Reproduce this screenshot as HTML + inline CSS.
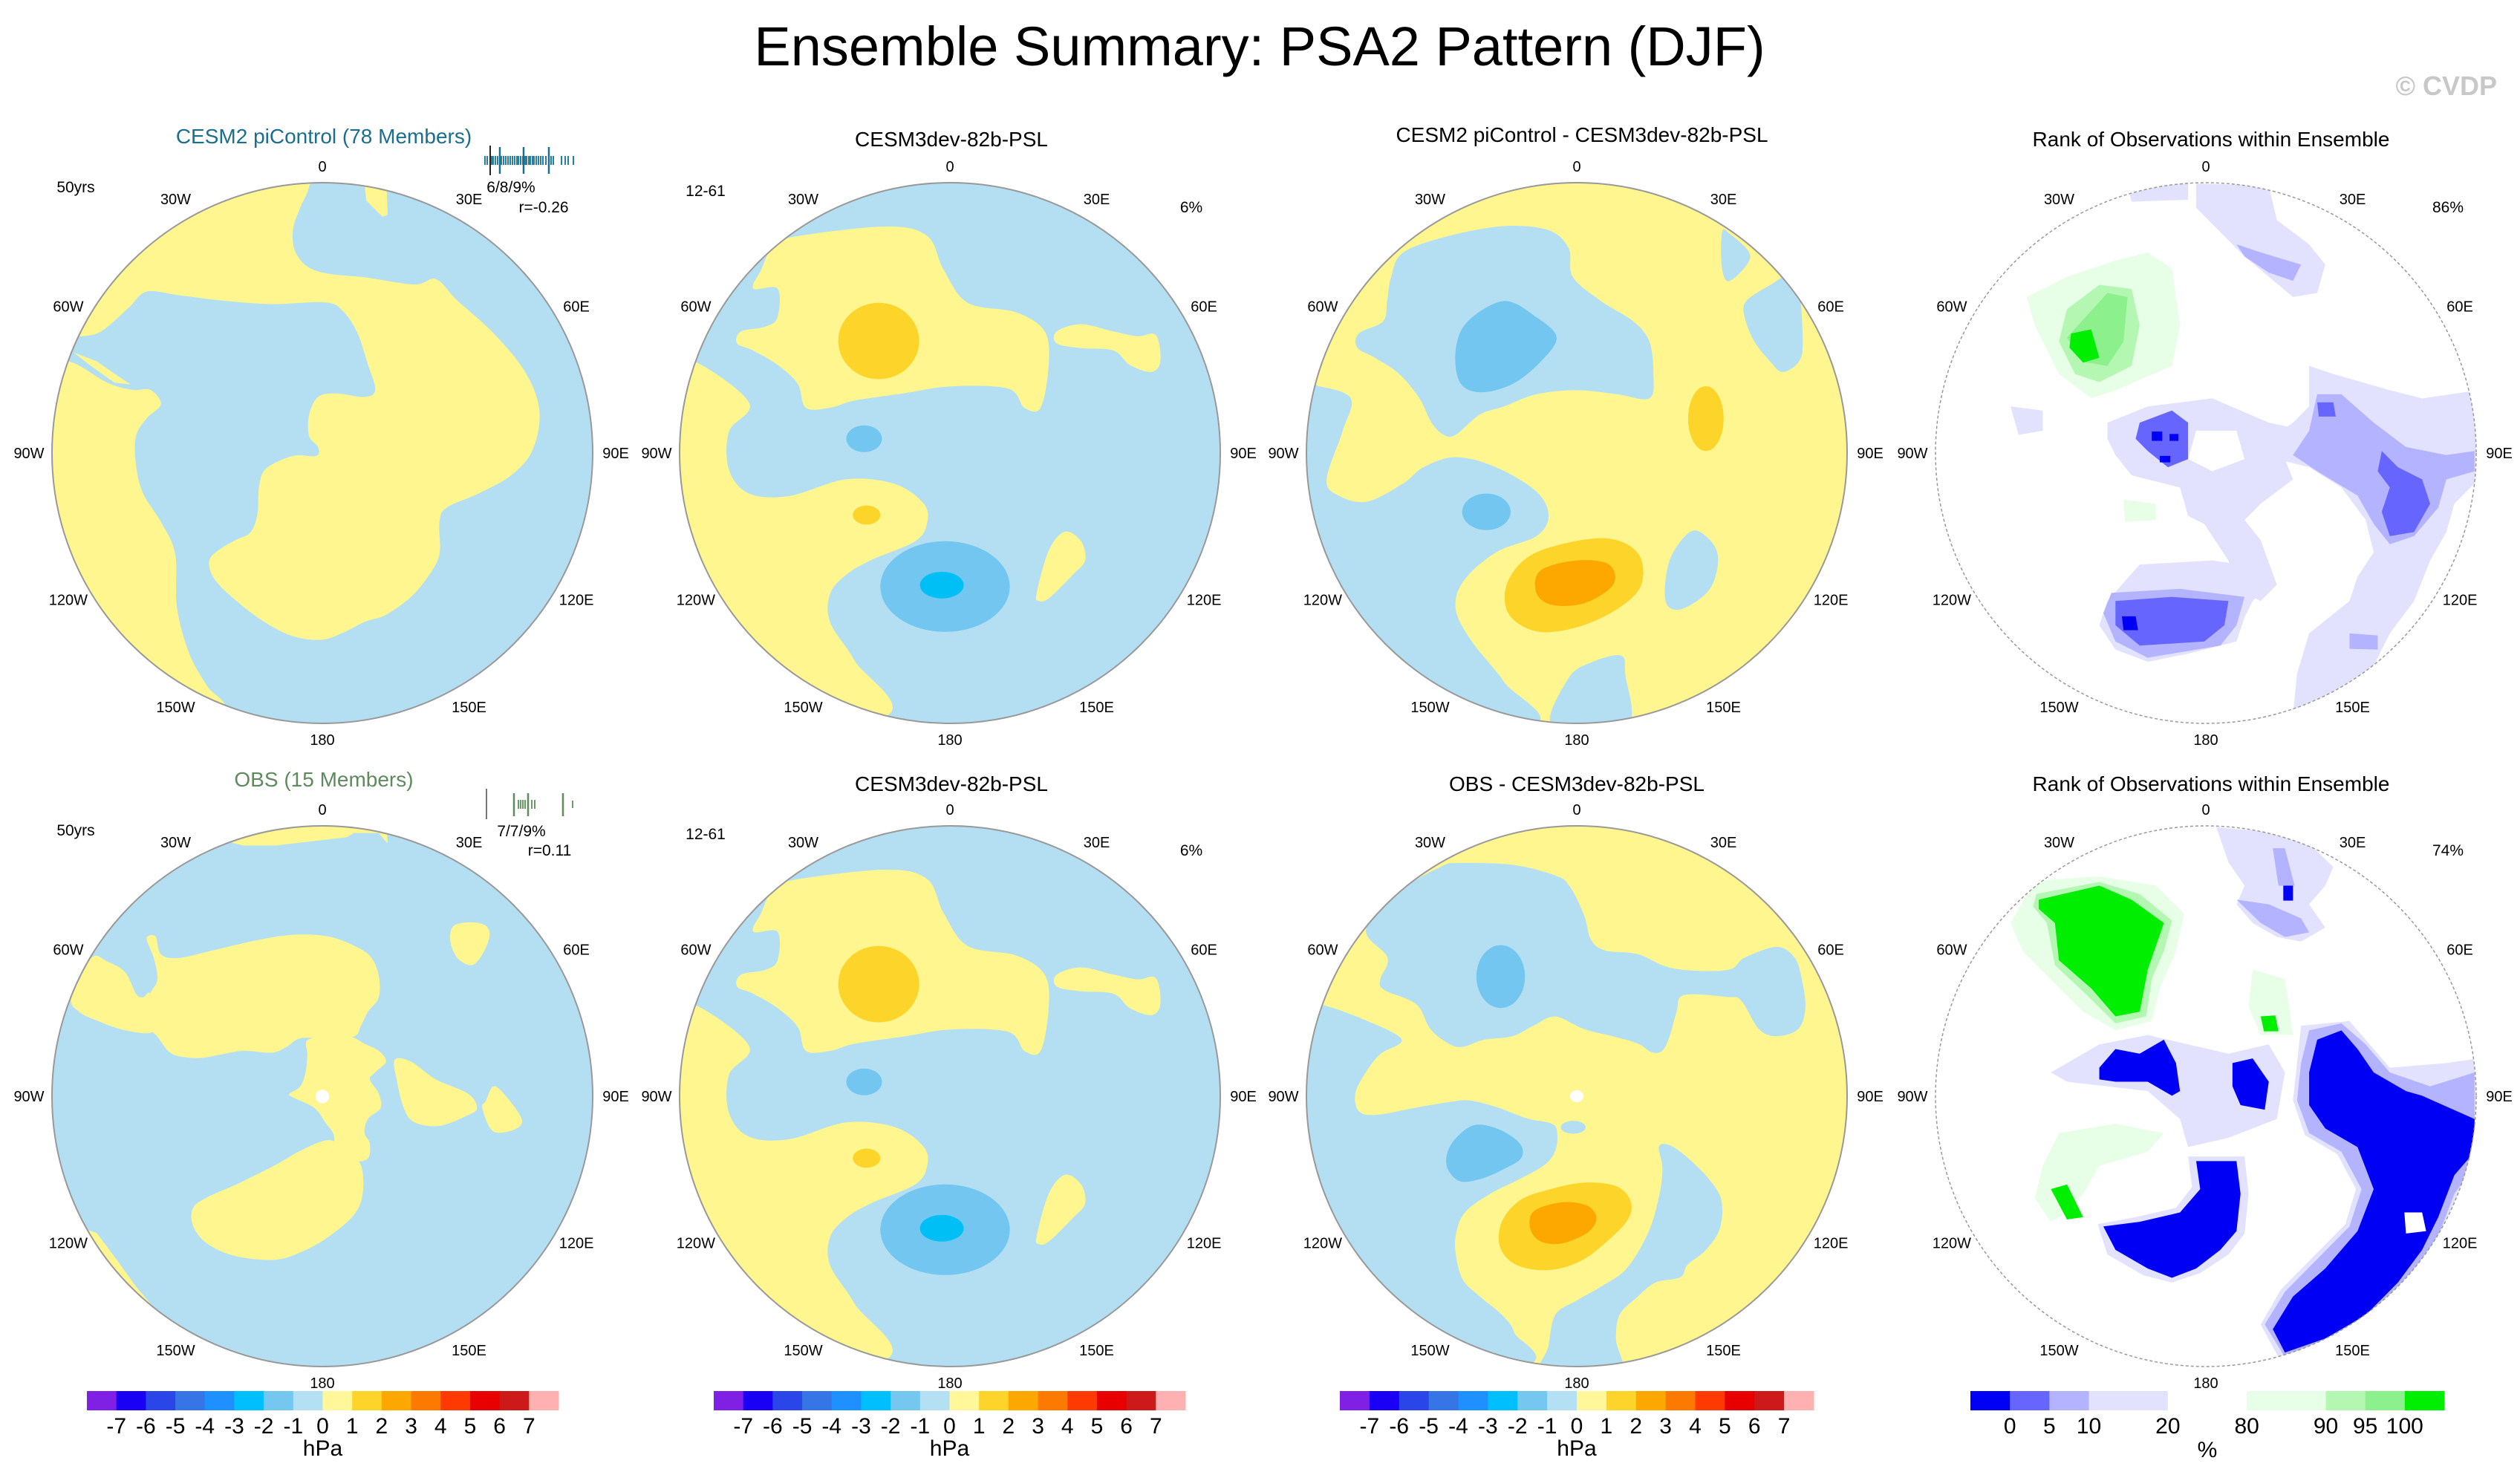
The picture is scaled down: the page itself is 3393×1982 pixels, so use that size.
<!DOCTYPE html>
<html><head><meta charset="utf-8">
<style>
html,body{margin:0;padding:0;background:#fff;}
svg{display:block;font-family:"Liberation Sans",Arial,sans-serif;}
</style></head>
<body>
<svg id="fig" xmlns="http://www.w3.org/2000/svg" width="3393" height="1982" viewBox="0 0 3393 1982">
<rect width="3393" height="1982" fill="#fff"/>
<text x="1696" y="88" text-anchor="middle" font-size="74" fill="#000">Ensemble Summary: PSA2 Pattern (DJF)</text>
<text x="3362" y="128" text-anchor="end" font-size="36" font-weight="bold" fill="#c8c8c8">© CVDP</text>

<text x="436" y="193" text-anchor="middle" font-size="28" fill="#1a6e8e">CESM2 piControl (78 Members)</text>
<text x="1281" y="197" text-anchor="middle" font-size="28" fill="#000">CESM3dev-82b-PSL</text>
<text x="2130" y="191" text-anchor="middle" font-size="28" fill="#000">CESM2 piControl - CESM3dev-82b-PSL</text>
<text x="2977" y="197" text-anchor="middle" font-size="28" fill="#000">Rank of Observations within Ensemble</text>
<text x="436" y="1059" text-anchor="middle" font-size="28" fill="#5e8a5e">OBS (15 Members)</text>
<text x="1281" y="1065" text-anchor="middle" font-size="28" fill="#000">CESM3dev-82b-PSL</text>
<text x="2123" y="1065" text-anchor="middle" font-size="28" fill="#000">OBS - CESM3dev-82b-PSL</text>
<text x="2977" y="1065" text-anchor="middle" font-size="28" fill="#000">Rank of Observations within Ensemble</text>

<g font-size="21" fill="#000">
<text x="102" y="259" text-anchor="middle">50yrs</text>
<text x="688" y="259" text-anchor="middle">6/8/9%</text>
<text x="732" y="286" text-anchor="middle">r=-0.26</text>
<text x="950" y="264" text-anchor="middle">12-61</text>
<text x="1604" y="286" text-anchor="middle">6%</text>
<text x="3296" y="286" text-anchor="middle">86%</text>
<text x="102" y="1125" text-anchor="middle">50yrs</text>
<text x="702" y="1126" text-anchor="middle">7/7/9%</text>
<text x="740" y="1152" text-anchor="middle">r=0.11</text>
<text x="950" y="1130" text-anchor="middle">12-61</text>
<text x="1604" y="1152" text-anchor="middle">6%</text>
<text x="3296" y="1152" text-anchor="middle">74%</text>
</g>
<g id="ticks1"></g>
<g id="ticks5"></g>
<g id="maps"></g>
<g id="cbars"></g>
</svg>
<script>
const NS="http://www.w3.org/2000/svg";
const svg=document.getElementById('fig');
function mk(tag,attrs,parent){const e=document.createElementNS(NS,tag);for(const k in attrs)e.setAttribute(k,attrs[k]);if(parent)parent.appendChild(e);return e;}

const LB="#b4dff3",YL="#fff68f",MB="#72c6f0",CY="#00bff5",GD="#fdd42a",OR="#fca800";
const R0="#0000f5",R1="#6666ff",R2="#b3b3ff",R3="#e2e2ff",G1="#e6ffe6",G2="#b3f7b3",G3="#8cf08c",G4="#00ee00";

const shapes1=[
 {c:YL,p:[[745,-60],[745,20],[720,80],[700,140],[705,200],[740,245],[800,265],[900,275],[1040,295],[1100,280],[1160,340],[1260,430],[1350,540],[1390,650],[1370,760],[1310,830],[1220,880],[1130,920],[1110,960],[1110,1050],[1080,1110],[1030,1170],[960,1220],[900,1240],[840,1270],[780,1290],[700,1280],[620,1240],[540,1180],[480,1120],[465,1070],[490,1040],[540,1010],[580,990],[600,940],[605,860],[625,810],[700,775],[765,775],[770,750],[745,720],[745,660],[770,610],[820,600],[900,610],[930,590],[910,520],[880,430],[840,370],[790,345],[640,350],[500,340],[380,325],[290,315],[240,360],[165,425],[110,440],[60,440],[-60,440],[-60,-60]]},
 {c:YL,p:[[85,485],[150,510],[200,545],[245,575],[200,570],[130,520]],s:0},
 {c:YL,p:[[945,10],[962,25],[965,100],[950,105],[905,60],[900,10]],s:0},
 {c:YL,p:[[-60,510],[70,510],[180,570],[250,590],[300,590],[330,630],[290,670],[260,720],[260,800],[280,880],[330,960],[370,1050],[375,1200],[410,1330],[460,1420],[510,1490],[400,1600],[-60,1600]]}
];
const shapes2=[
 {c:YL,p:[[830,760],[865,755],[930,840],[905,900],[905,980],[930,1030],[980,1035],[1050,1000],[1110,1010],[1145,1050],[1150,1090],[1135,1130],[1080,1170],[1050,1200],[1030,1240],[1030,1300],[1060,1380],[1095,1500],[830,1520]]},
 {c:YL,p:[[960,510],[990,490],[1100,470],[1150,490],[1170,560],[1200,630],[1260,650],[1295,690],[1300,760],[1290,850],[1270,850],[1250,810],[1180,805],[1120,820],[1060,835],[1030,850],[1000,850],[990,800],[965,760],[935,730],[915,715],[920,690],[950,680],[965,660],[965,600],[935,600],[945,560]]},
 {c:GD,e:[1090,710,50,80]},
 {c:YL,p:[[1310,690],[1340,675],[1380,690],[1410,700],[1430,695],[1437,720],[1437,760],[1425,775],[1400,760],[1380,730],[1340,725],[1310,715]]},
 {c:GD,e:[1075,1075,17,20]},
 {c:MB,e:[1172,1225,80,95]},
 {c:CY,e:[1168,1222,27,28]},
 {c:MB,e:[1072,915,22,28]},
 {c:YL,p:[[1320,1110],[1340,1130],[1345,1170],[1330,1200],[1300,1250],[1288,1255],[1285,1240],[1300,1150]]}
];
const shapes3=[
 {c:LB,p:[[175,340],[230,300],[300,275],[355,285],[380,330],[385,400],[420,460],[460,510],[480,560],[485,640],[480,700],[440,690],[390,680],[340,690],[300,720],[270,740],[240,790],[225,790],[210,760],[195,700],[170,640],[140,600],[118,575],[120,540],[150,510],[155,460],[160,400]]},
 {c:MB,p:[[300,460],[340,500],[365,550],[345,610],[310,665],[270,685],[245,660],[240,580],[255,510]]},
 {c:LB,p:[[40,670],[70,670],[110,700],[100,780],[80,900],[95,940],[130,955],[175,910],[200,870],[240,845],[290,870],[340,930],[355,990],[340,1040],[290,1080],[250,1150],[240,1220],[260,1300],[300,1400],[330,1510],[40,1510]]},
 {c:MB,e:[278,980,30,45]},
 {c:LB,p:[[600,460],[630,420],[650,400],[665,430],[670,560],[665,610],[645,635],[630,610],[610,560],[598,500]]},
 {c:LB,p:[[570,290],[580,295],[605,350],[580,410],[570,380]]},
 {c:LB,p:[[360,1510],[380,1390],[410,1350],[445,1335],[450,1380],[452,1510]]},
 {c:LB,p:[[530,1030],[550,1040],[565,1090],[555,1170],[520,1220],[500,1200],[505,1100]]},
 {c:GD,e:[550,750,22,80]},
 {c:GD,p:[[420,1045],[465,1080],[470,1160],[440,1220],[390,1265],[340,1275],[305,1230],[305,1150],[340,1080]]},
 {c:OR,p:[[390,1100],[430,1110],[435,1160],[400,1205],[360,1210],[340,1180],[345,1125]]}
];
const shapes4=[
 {c:R3,p:[[1160,170],[1250,175],[1260,260],[1300,320],[1320,370],[1310,440],[1280,450],[1250,400],[1220,350],[1185,280],[1160,230]]},
 {c:R3,p:[[1075,175],[1150,170],[1150,210],[1080,215]]},
 {c:R2,p:[[1210,320],[1240,340],[1290,370],[1280,410],[1250,390],[1220,350]]},
 {c:G1,p:[[1100,340],[1130,380],[1140,520],[1130,620],[1060,680],[1030,700],[990,640],[960,520],[950,450],[1000,400],[1060,360]]},
 {c:G2,p:[[1040,420],[1080,430],[1090,520],[1080,620],[1040,660],[1010,640],[990,560],[1000,480]]},
 {c:G3,p:[[1050,440],[1075,450],[1070,560],[1050,620],[1020,610],[1000,550]]},
 {c:G4,p:[[1005,540],[1030,530],[1040,600],[1020,612],[1003,575]]},
 {c:R3,p:[[1050,760],[1100,720],[1180,700],[1250,760],[1300,780],[1270,850],[1280,900],[1240,960],[1220,1000],[1240,1050],[1260,1160],[1240,1200],[1210,1170],[1200,1100],[1170,1010],[1150,990],[1140,920],[1080,890],[1060,840],[1050,800]]},
 {c:"#fff",p:[[1160,780],[1210,780],[1220,850],[1180,880],[1150,850]]},
 {c:R1,p:[[1090,760],[1130,730],[1150,760],[1150,850],[1125,870],[1100,830],[1085,800]]},
 {c:R0,p:[[1105,782],[1118,782],[1118,805],[1105,805]]},
 {c:R0,p:[[1127,788],[1138,788],[1138,805],[1127,805]]},
 {c:R0,p:[[1115,842],[1128,842],[1128,858],[1115,858]]},
 {c:R3,p:[[1300,620],[1330,640],[1400,680],[1440,700],[1510,680],[1510,900],[1480,960],[1470,1030],[1450,1100],[1430,1200],[1400,1280],[1380,1360],[1340,1420],[1300,1460],[1280,1480],[1285,1380],[1300,1280],[1350,1200],[1360,1140],[1380,1080],[1370,1000],[1340,920],[1300,870],[1260,850],[1250,800],[1280,760],[1300,720]]},
 {c:R2,p:[[1310,690],[1340,690],[1380,760],[1420,820],[1470,840],[1505,830],[1505,880],[1470,900],[1460,970],[1430,1040],[1400,1060],[1380,1010],[1360,940],[1310,880],[1280,840],[1300,780]]},
 {c:R1,p:[[1390,830],[1410,870],[1440,900],[1450,960],[1430,1030],[1400,1040],[1390,980],[1400,920],[1385,880]]},
 {c:R1,p:[[1310,710],[1330,710],[1333,745],[1312,745]]},
 {c:R2,p:[[1350,1280],[1385,1285],[1385,1320],[1350,1318]]},
 {c:R3,p:[[930,720],[970,730],[970,780],[940,790]]},
 {c:G1,p:[[1070,950],[1110,960],[1110,1000],[1072,1005]]},
 {c:R3,p:[[1090,1110],[1180,1100],[1250,1120],[1250,1160],[1230,1200],[1220,1240],[1210,1300],[1150,1330],[1100,1350],[1060,1320],[1040,1260],[1050,1200]]},
 {c:R2,p:[[1055,1180],[1140,1170],[1220,1190],[1210,1260],[1190,1310],[1100,1340],[1060,1300],[1045,1230]]},
 {c:R1,p:[[1060,1200],[1130,1190],[1200,1200],[1195,1260],[1170,1300],[1090,1310],[1060,1260]]},
 {c:R0,p:[[1068,1238],[1085,1238],[1088,1272],[1070,1272]]}
];
const shapes5=[
 {c:YL,p:[[500,-20],[960,-20],[965,60],[940,30],[870,30],[850,42],[780,50],[650,65],[560,65],[520,55]],s:0},
 {c:YL,p:[[290,325],[315,320],[330,370],[380,380],[470,360],[600,330],[700,315],[800,320],[880,350],[920,380],[940,430],[940,490],[910,530],[890,570],[870,600],[790,605],[720,605],[680,630],[640,645],[560,640],[500,650],[440,660],[380,655],[350,640],[320,600],[300,580],[280,540],[300,480],[320,440],[310,380]]},
 {c:YL,p:[[80,490],[135,380],[180,390],[230,420],[260,480],[280,490],[300,480],[310,560],[300,590],[220,580],[150,555],[100,530]]},
 {c:YL,p:[[740,610],[800,600],[860,600],[900,620],[940,640],[960,670],[930,700],[915,720],[940,760],[945,800],[910,830],[900,870],[915,900],[905,945],[830,950],[810,940],[815,880],[790,840],[760,800],[700,770],[690,760],[720,740],[735,700],[740,650]]},
 {c:YL,p:[[985,665],[1030,670],[1100,720],[1190,760],[1215,800],[1190,820],[1110,850],[1040,840],[1010,800],[990,720]]},
 {c:YL,p:[[1260,740],[1290,760],[1340,830],[1320,860],[1260,865],[1230,800],[1240,780]]},
 {c:YL,p:[[1150,290],[1200,280],[1240,290],[1250,320],[1230,370],[1200,400],[1160,380],[1140,330]]},
 {c:YL,p:[[800,890],[850,920],[890,960],[895,1040],[870,1100],[800,1160],[730,1200],[650,1225],[540,1215],[460,1180],[420,1130],[420,1080],[460,1050],[550,1010],[650,960],[720,920]]},
 {c:YL,p:[[-50,1140],[120,1140],[150,1150],[210,1230],[260,1300],[320,1370],[340,1410],[-50,1410]],s:0},
 {c:"#fff",e:[782,768,19,19]}
];
const shapes7=[
 {c:LB,p:[[190,300],[290,190],[400,125],[450,115],[600,120],[720,150],[760,180],[800,260],[820,330],[860,360],[950,370],[1050,410],[1200,415],[1250,380],[1340,350],[1390,380],[1410,440],[1420,520],[1400,580],[1340,600],[1290,580],[1240,500],[1200,490],[1080,485],[1060,530],[1040,600],[1020,640],[990,645],[950,620],[880,600],[800,580],[720,545],[660,570],[600,600],[520,610],[460,630],[420,620],[370,580],[330,510],[240,470],[230,440],[250,380]]},
 {c:MB,e:[567,433,68,88]},
 {c:LB,p:[[-50,500],[60,510],[200,560],[290,610],[230,650],[190,700],[160,760],[170,810],[220,820],[330,800],[420,785],[480,780],[560,800],[640,830],[710,845],[725,870],[720,920],[690,960],[620,1000],[540,1040],[470,1090],[445,1140],[440,1200],[460,1280],[510,1330],[570,1380],[605,1430],[620,1530],[-50,1600]]},
 {c:LB,p:[[1010,910],[1040,905],[1090,940],[1150,1000],[1185,1060],[1180,1140],[1140,1200],[1090,1240],[1070,1275],[1000,1290],[950,1330],[900,1380],[890,1450],[900,1560],[680,1560],[700,1470],[720,1380],[780,1340],[850,1300],[920,1250],[980,1150],[1010,1050],[1020,970]]},
 {c:LB,e:[770,855,35,18]},
 {c:MB,p:[[490,850],[560,860],[620,900],[625,940],[580,970],[510,1000],[450,1005],[415,960],[430,900]]},
 {c:GD,p:[[800,1010],[890,1020],[930,1060],[925,1110],[870,1170],[790,1230],[700,1255],[610,1240],[565,1190],[570,1120],[620,1060],[700,1030]]},
 {c:OR,p:[[740,1065],[810,1075],[835,1110],[810,1150],[740,1180],[680,1175],[650,1140],[660,1090]]},
 {c:"#fff",e:[780,768,19,17]}
];
const shapes8=[
 {c:R3,p:[[1185,175],[1250,185],[1300,210],[1330,260],[1320,300],[1300,340],[1320,390],[1290,420],[1260,410],[1230,380],[1210,340],[1220,300],[1200,250]]},
 {c:R2,p:[[1210,330],[1250,340],[1290,370],[1300,400],[1270,410],[1240,380]]},
 {c:R2,p:[[1255,220],[1270,220],[1282,300],[1262,300]]},
 {c:R0,p:[[1268,300],[1280,300],[1280,332],[1268,332]]},
 {c:G1,p:[[960,290],[1040,280],[1110,300],[1145,360],[1135,440],[1115,520],[1105,590],[1060,610],[1020,570],[985,510],[945,440],[930,380],[950,320]]},
 {c:G2,p:[[962,318],[1040,292],[1090,318],[1130,375],[1120,440],[1105,500],[1098,580],[1060,595],[1025,535],[985,470],[975,380],[958,345]]},
 {c:G4,p:[[965,330],[1040,300],[1080,330],[1120,380],[1110,430],[1100,480],[1090,570],[1060,580],[1030,520],[990,460],[985,380],[965,350]]},
 {c:G1,p:[[1230,480],[1270,500],[1280,620],[1240,620],[1225,560]]},
 {c:G4,p:[[1240,580],[1258,578],[1262,612],[1244,612]]},
 {c:R3,p:[[980,700],[1040,640],[1100,620],[1150,640],[1200,660],[1250,640],[1270,700],[1260,800],[1200,840],[1150,860],[1140,800],[1100,740],[1000,720]]},
 {c:R0,p:[[1040,690],[1060,650],[1090,660],[1120,630],[1135,680],[1140,740],[1130,750],[1100,720],[1060,720],[1040,715]]},
 {c:R0,p:[[1205,680],[1230,670],[1250,720],[1245,780],[1215,770],[1205,730]]},
 {c:R3,p:[[1290,600],[1350,590],[1400,690],[1470,680],[1510,670],[1510,910],[1485,970],[1465,1060],[1435,1140],[1395,1210],[1335,1280],[1265,1320],[1240,1240],[1265,1165],[1305,1095],[1345,1025],[1358,950],[1335,875],[1295,835],[1280,760],[1285,680]]},
 {c:R2,p:[[1300,610],[1340,595],[1370,640],[1400,700],[1450,730],[1505,700],[1505,900],[1480,960],[1460,1050],[1430,1130],[1390,1200],[1330,1270],[1270,1310],[1245,1240],[1270,1170],[1310,1100],[1350,1030],[1365,950],[1340,870],[1300,830],[1285,760],[1290,680]]},
 {c:R0,p:[[1310,630],[1340,610],[1360,650],[1380,700],[1420,740],[1440,750],[1505,800],[1505,870],[1480,920],[1460,1010],[1440,1080],[1410,1150],[1370,1220],[1320,1270],[1270,1300],[1255,1250],[1280,1180],[1320,1120],[1360,1040],[1380,950],[1360,860],[1320,820],[1300,770],[1300,700]]},
 {c:R3,p:[[1150,880],[1220,880],[1225,960],[1220,1045],[1200,1090],[1165,1130],[1130,1150],[1095,1135],[1050,1090],[1038,1025],[1085,1010],[1135,990],[1155,945]]},
 {c:R0,p:[[1160,890],[1210,890],[1215,960],[1210,1040],[1190,1080],[1160,1120],[1130,1140],[1100,1120],[1060,1080],[1045,1030],[1090,1020],[1140,1000],[1165,950]]},
 {c:G1,p:[[990,830],[1060,810],[1120,830],[1100,870],[1040,900],[1020,960],[1000,1000],[980,1020],[960,970],[970,900]]},
 {c:G4,p:[[980,950],[1000,940],[1020,1010],[1000,1015]]},
 {c:"#fff",p:[[1418,1000],[1440,1000],[1445,1040],[1420,1045]]}
];

const maps=[
 {n:'map-cesm2-picontrol',cx:434,cy:610,zcx:782,zcy:767,ax:757,ay:757,bg:LB,sh:shapes1,smooth:1},
 {n:'map-cesm3dev-row1',cx:1279,cy:610,zcx:1178,zcy:945,ax:334,ay:567,bg:LB,sh:shapes2,smooth:1},
 {n:'map-diff-row1',cx:2123,cy:610,zcx:390,zcy:835,ax:335,ay:667,bg:YL,sh:shapes3,smooth:1},
 {n:'map-rank-row1',cx:2970,cy:610,zcx:1172,zcy:835,ax:335,ay:667,bg:"#fff",sh:shapes4,smooth:0,rank:1},
 {n:'map-obs',cx:434,cy:1476,zcx:782,zcy:767,ax:757,ay:757,bg:LB,sh:shapes5,smooth:1},
 {n:'map-cesm3dev-row2',cx:1279,cy:1476,zcx:1178,zcy:945,ax:334,ay:567,bg:LB,sh:shapes2,smooth:1},
 {n:'map-diff-row2',cx:2123,cy:1476,zcx:780,zcy:768,ax:757,ay:757,bg:YL,sh:shapes7,smooth:1},
 {n:'map-rank-row2',cx:2970,cy:1476,zcx:1172,zcy:751,ax:335,ay:579,bg:"#fff",sh:shapes8,smooth:0,rank:1}
];
const RAD=364;
const lonLabels=['0','30E','60E','90E','120E','150E','180','150W','120W','90W','60W','30W'];
const lonAngles=[0,30,60,90,120,150,180,210,240,270,300,330];

function smoothPath(p){
 const n=p.length;let d=`M${p[0][0]},${p[0][1]}`;
 for(let i=0;i<n;i++){
  const p0=p[(i-1+n)%n],p1=p[i],p2=p[(i+1)%n],p3=p[(i+2)%n];
  const c1=[p1[0]+(p2[0]-p0[0])/6,p1[1]+(p2[1]-p0[1])/6];
  const c2=[p2[0]-(p3[0]-p1[0])/6,p2[1]-(p3[1]-p1[1])/6];
  d+=`C${c1[0]},${c1[1]} ${c2[0]},${c2[1]} ${p2[0]},${p2[1]}`;
 }
 return d+'Z';
}
function polyPath(p){return 'M'+p.map(q=>q.join(',')).join('L')+'Z';}

const mapsG=document.getElementById('maps');
const defs=mk('defs',{},svg);
maps.forEach((m,i)=>{
 const cp=mk('clipPath',{id:'clip'+i},defs);
 mk('circle',{cx:m.cx,cy:m.cy,r:RAD},cp);
 const g=mk('g',{'clip-path':`url(#clip${i})`},mapsG);
 
 
 const bg=mk('circle',{cx:m.cx,cy:m.cy,r:RAD,fill:m.bg},g);
 
 
 const t=mk('g',{transform:`translate(${m.cx},${m.cy}) scale(${RAD/m.ax},${RAD/m.ay}) translate(${-m.zcx},${-m.zcy})`},g);
 m.sh.forEach(s=>{
  let el;
  if(s.e){el=mk('ellipse',{cx:s.e[0],cy:s.e[1],rx:s.e[2],ry:s.e[3],fill:s.c},t);}
  else{el=mk('path',{d:(m.smooth&&s.s!==0)?smoothPath(s.p):polyPath(s.p),fill:s.c},t);}
  
  
 });
 const ol=mk('circle',{cx:m.cx,cy:m.cy,r:RAD,fill:'none',stroke:'#999','stroke-width':m.rank?1.5:2},mapsG);
 if(m.rank)ol.setAttribute('stroke-dasharray','4 3');
 
 
 lonLabels.forEach((lab,k)=>{
  const a=lonAngles[k]*Math.PI/180;
  const rr=(lonAngles[k]%180===0)?386:395;
  const tx=mk('text',{x:(m.cx+rr*Math.sin(a)).toFixed(1),y:(m.cy-rr*Math.cos(a)+7).toFixed(1),'text-anchor':'middle','font-size':20,fill:'#000'},mapsG);
  tx.textContent=lab;
  
  
 });
});

// ensemble tick strips
const ticksModel=[653,656,662,664,667,670,673,675,678,681,684,687,690,693,696,698,701,704,707,709,712,714,717,719,722,725,728,731,735,739,742,745,756,761,765,772];
const ticksModelLong=[673,705,739];
const tg1=document.getElementById('ticks1');
ticksModel.forEach(x=>{
 const l=mk('line',{x1:x,x2:x,y1:210,y2:222,stroke:'#2a7fa0','stroke-width':2},tg1);
 
 
});
ticksModelLong.forEach(x=>{
 const l=mk('line',{x1:x,x2:x,y1:198,y2:234,stroke:'#1a6e8e','stroke-width':2.5},tg1);
 
 
});
const obsLine1=mk('line',{x1:660,x2:660,y1:196,y2:236,stroke:'#222','stroke-width':2},tg1);



const ticksObs=[698,701,704,707,716,720];
const ticksObsLong=[692,711,758];
const tg5=document.getElementById('ticks5');
ticksObs.forEach(x=>{
 const l=mk('line',{x1:x,x2:x,y1:1077,y2:1089,stroke:'#6a9a6a','stroke-width':2},tg5);
 
 
});
ticksObsLong.forEach(x=>{
 const l=mk('line',{x1:x,x2:x,y1:1068,y2:1099,stroke:'#5e8a5e','stroke-width':2.5},tg5);
 
 
});
const s771=mk('line',{x1:771,x2:771,y1:1078,y2:1088,stroke:'#6a9a6a','stroke-width':2},tg5);


const obsLine5=mk('line',{x1:655,x2:655,y1:1062,y2:1103,stroke:'#777','stroke-width':2},tg5);



// colorbars
const pslColors=["#8020e4","#1a00f5","#2a45e8","#3575e6","#1e90ff","#00bfff","#74c8f0","#b4e0f3","#fff799","#fdd42a","#fca800","#fd7a00","#ff3a00","#e80000","#cc1a1a","#ffb0b0"];
const pslLabels=["-7","-6","-5","-4","-3","-2","-1","0","1","2","3","4","5","6","7"];
const rankColors=[R0,R1,R2,R3,R3,"#fff","#fff",G1,G1,G2,G3,G4];
const rankLabels=["0","5","10","20","80","90","95","100"];
const rankLabelPos=[1,2,3,5,7,9,10,11];
const cbG=document.getElementById('cbars');
const cbX=[[117,752],[961,1596],[1804,2442]];
cbX.forEach(([x0,x1],j)=>{
 const w=(x1-x0)/pslColors.length;
 pslColors.forEach((c,i)=>{
  const r=mk('rect',{x:x0+i*w,y:1873,width:w+0.5,height:26,fill:c},cbG);
  
  
 });
 pslLabels.forEach((lab,i)=>{
  const t=mk('text',{x:x0+(i+1)*w,y:1930,'text-anchor':'middle','font-size':30},cbG);
  t.textContent=lab;
  
  
 });
 const u=mk('text',{x:(x0+x1)/2,y:1960,'text-anchor':'middle','font-size':30},cbG);
 u.textContent='hPa';
 
 
});
(function(){
 const x0=2653,x1=3291,w=(x1-x0)/rankColors.length;
 rankColors.forEach((c,i)=>{
  const r=mk('rect',{x:x0+i*w,y:1873,width:w+0.5,height:26,fill:c},cbG);
  
  
 });
 rankLabels.forEach((lab,i)=>{
  const t=mk('text',{x:x0+rankLabelPos[i]*w,y:1930,'text-anchor':'middle','font-size':30},cbG);
  t.textContent=lab;
  
  
 });
 const u=mk('text',{x:(x0+x1)/2,y:1962,'text-anchor':'middle','font-size':30},cbG);
 u.textContent='%';
 
 
})();
</script>
</body></html>
